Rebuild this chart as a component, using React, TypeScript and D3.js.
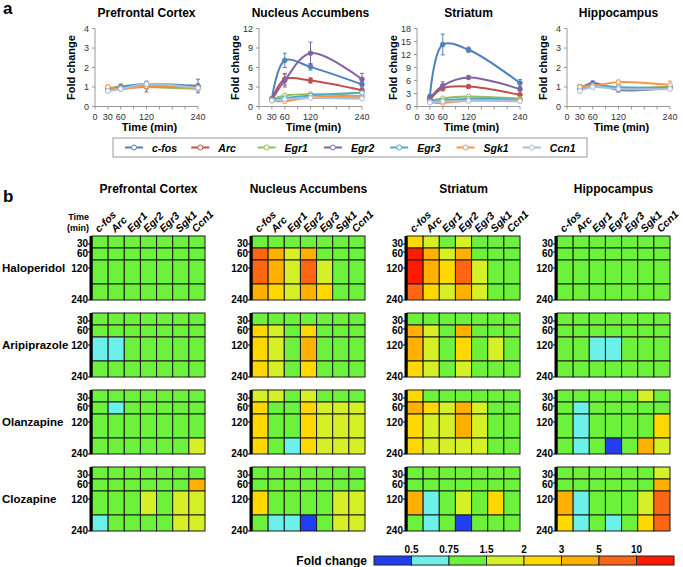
import React from 'react';
import * as d3 from 'd3';

const times = [30, 60, 120, 240];
const genes = ['c-fos', 'Arc', 'Egr1', 'Egr2', 'Egr3', 'Sgk1', 'Ccn1'];
const geneColors = ['#4f81bd', '#c0504d', '#9bbb59', '#8064a2', '#4bacc6', '#f79646', '#a7c0e0'];
const regions = ['Prefrontal Cortex', 'Nucleus Accumbens', 'Striatum', 'Hippocampus'];
const drugs = ['Haloperidol', 'Aripiprazole', 'Olanzapine', 'Clozapine'];
const yMax = [4, 12, 18, 4];
const yStep = [1, 3, 3, 1];

// panel a: haloperidol time course, one row per gene (30, 60, 120, 240 min)
const pfcMean = [
  [0.85, 1.0, 1.15, 1.05], [0.95, 0.95, 1.0, 1.0], [0.95, 1.0, 1.0, 0.9], [0.9, 1.0, 1.05, 1.0],
  [0.85, 0.95, 1.1, 0.95], [1.0, 0.9, 1.05, 0.95], [0.8, 0.9, 1.15, 0.95],
];
const pfcErr = [
  [0.1, 0.15, 0.15, 0.35], [0.1, 0.1, 0.25, 0.15], [0.1, 0.1, 0.1, 0.1], [0.1, 0.1, 0.1, 0.1],
  [0.1, 0.1, 0.1, 0.1], [0.1, 0.1, 0.1, 0.1], [0.1, 0.1, 0.1, 0.1],
];
const nacMean = [
  [1.2, 7.1, 6.1, 3.4], [1.1, 4.2, 4.0, 2.5], [1.1, 1.7, 1.9, 1.6], [1.0, 4.0, 8.2, 4.2],
  [1.0, 1.3, 1.7, 2.1], [0.9, 0.8, 1.4, 1.4], [0.9, 1.1, 1.3, 1.2],
];
const nacErr = [
  [0.3, 1.1, 0.5, 0.4], [0.2, 0.9, 0.4, 0.3], [0.2, 0.2, 0.2, 0.2], [0.2, 1.0, 1.7, 0.9],
  [0.2, 0.2, 0.2, 0.2], [0.2, 0.2, 0.2, 0.2], [0.2, 0.2, 0.2, 0.2],
];
const strMean = [
  [2.3, 14.3, 13.1, 5.4], [1.6, 4.2, 4.6, 2.7], [1.3, 1.9, 2.3, 1.8], [1.8, 4.8, 6.7, 4.0],
  [1.2, 1.4, 1.8, 1.6], [1.0, 0.8, 1.4, 1.4], [0.9, 1.2, 1.3, 1.2],
];
const strErr = [
  [0.5, 2.4, 0.6, 0.8], [0.3, 0.6, 0.3, 0.3], [0.2, 0.2, 0.2, 0.2], [0.3, 0.9, 0.3, 0.4],
  [0.2, 0.2, 0.2, 0.2], [0.2, 0.3, 0.2, 0.2], [0.2, 0.2, 0.2, 0.2],
];
const hipMean = [
  [0.95, 1.15, 0.9, 0.95], [0.9, 1.1, 0.95, 1.0], [1.0, 1.05, 0.95, 1.0], [0.9, 1.2, 0.85, 0.95],
  [1.0, 1.1, 1.0, 0.95], [1.0, 1.05, 1.25, 1.1], [0.8, 1.0, 0.9, 0.9],
];
const hipErr = [
  [0.15, 0.1, 0.1, 0.1], [0.1, 0.1, 0.1, 0.1], [0.1, 0.1, 0.1, 0.1], [0.15, 0.1, 0.1, 0.1],
  [0.1, 0.1, 0.1, 0.1], [0.1, 0.1, 0.1, 0.2], [0.1, 0.1, 0.1, 0.1],
];

// panel b: fold change per gene (rows) and time point (cols)
const ariPfc = [[1, 1, 0.65, 1], [1, 1, 0.65, 1], [1, 1, 1, 1], [1, 1, 1, 1], [1, 1, 1, 1], [1, 1, 1, 1], [1, 1, 1, 1]];
const ariNac = [[1, 2.5, 2.5, 2.5], [1, 1.8, 1.8, 1.8], [1, 1, 1, 1], [1, 2.5, 3.5, 2.5], [1, 1, 1, 1], [1, 1, 1, 1], [1, 1, 1, 1]];
const ariStr = [[1, 3.5, 3.5, 2.5], [1, 1.8, 1.8, 1.8], [1, 1, 1, 1], [1, 3.5, 2.5, 1.8], [1, 1, 1, 1], [1, 1, 1.8, 1], [1, 1, 1, 1]];
const ariHip = [[1, 1, 1, 1], [1, 1, 1, 1], [1, 1, 0.65, 1], [1, 1, 0.65, 1], [1, 1, 1, 1], [1, 1, 1, 1], [1, 1, 1, 1]];
const olaPfc = [[1, 1, 1, 1], [1, 0.65, 1, 1], [1, 1, 1, 1], [1, 1, 1, 1], [1, 1, 1, 1], [1, 1, 1, 1], [1, 1, 1, 1.8]];
const olaNac = [[1.8, 2.5, 2.5, 2.5], [1.8, 1, 1, 1], [1, 1, 1, 0.65], [1.8, 2.5, 2.5, 2.5], [1, 1.8, 1.8, 1.8], [1, 1.8, 1.8, 1.8], [1, 1.8, 1.8, 1.8]];
const olaStr = [[2.5, 4, 2.5, 2.5], [1, 2.5, 1.8, 1.8], [1, 1.8, 1.8, 1.8], [1, 3.5, 3.5, 1.8], [1, 1.8, 1.8, 1.8], [1, 1, 1, 1], [1, 1, 1, 1]];
const olaHip = [[1, 1, 1, 1], [1, 0.65, 0.65, 0.65], [1, 1, 1, 1], [1, 1, 1, 0.4], [1, 1, 1, 1], [1.8, 1, 1, 3.5], [1, 1, 2.5, 1.8]];
const cloPfc = [[1, 1, 1, 0.65], [1, 1, 1, 1], [1, 1, 1, 1], [1, 1, 1.8, 1], [1, 1, 1, 1], [1, 1, 1.8, 1.8], [1, 3.5, 1.8, 1.8]];
const cloNac = [[1, 1, 2.5, 1], [1, 1, 1, 0.65], [1, 1, 1, 0.65], [1, 1, 1, 0.4], [1, 1, 1, 1], [1, 1, 1.8, 1.8], [1, 1, 1.8, 1.8]];
const cloStr = [[1, 1, 3.5, 1], [1, 1, 0.65, 0.65], [1, 1, 1, 1], [1, 1, 1.8, 0.4], [1, 1, 1, 1], [1, 1, 2.5, 1], [1, 1, 1, 1]];
const cloHip = [[1, 1, 3.5, 2.5], [1, 1, 0.65, 0.65], [1, 1, 1, 1], [1, 1, 1, 0.65], [1, 1, 1, 1], [1, 1, 1.8, 2.5], [1.8, 3.5, 7, 7]];

const foldBreaks = [0.5, 0.75, 1.5, 2, 3, 5, 10];
const foldColors = ['#1f3ff0', '#6cf0ea', '#6cf23a', '#d6f028', '#ffd800', '#ffb000', '#ff6614', '#ff1a00'];

const font = 'Arial, "Liberation Sans", sans-serif';

const lineMeans = [pfcMean, nacMean, strMean, hipMean];
const lineErrs = [pfcErr, nacErr, strErr, hipErr];
const heat = [
  [pfcMean, nacMean, strMean, hipMean],
  [ariPfc, ariNac, ariStr, ariHip],
  [olaPfc, olaNac, olaStr, olaHip],
  [cloPfc, cloNac, cloStr, cloHip],
];

const LinePanel = ({ idx, x0 }: { idx: number; x0: number }) => {
  const x = d3.scaleLinear().domain([0, 240]).range([x0, x0 + 103]);
  const y = d3.scaleLinear().domain([0, yMax[idx]]).range([106.5, 28.5]);
  const yTicks = d3.range(0, yMax[idx] + 0.01, yStep[idx]);
  const line = d3.line<number>().x((_, i) => x(times[i])).y(d => y(d)).curve(d3.curveCatmullRom.alpha(0.5));
  const means = lineMeans[idx];
  const errs = lineErrs[idx];
  return (
    <g fontFamily={font}>
      <text x={x(120)} y={17} textAnchor="middle" fontWeight="bold" fontSize={12}>{regions[idx]}</text>
      <line x1={x0} x2={x0} y1={y(0)} y2={y(yMax[idx])} stroke="#999" />
      <line x1={x0} x2={x(240)} y1={y(0)} y2={y(0)} stroke="#999" />
      {yTicks.map(t => (
        <g key={t}>
          <line x1={x0 - 3} x2={x0} y1={y(t)} y2={y(t)} stroke="#999" />
          <text x={x0 - 6} y={y(t) + 3} textAnchor="end" fontSize={9} fill="#333">{t}</text>
        </g>
      ))}
      {d3.range(0, 241, 30).map(t => (
        <line key={t} x1={x(t)} x2={x(t)} y1={y(0)} y2={y(0) + 3} stroke="#999" />
      ))}
      {[0, 30, 60, 120, 240].map(t => (
        <text key={t} x={x(t)} y={y(0) + 13} textAnchor="middle" fontSize={9} fill="#333">{t}</text>
      ))}
      <text transform={`translate(${x0 - 20},${y(yMax[idx] / 2)}) rotate(-90)`} textAnchor="middle" fontWeight="bold" fontSize={11}>Fold change</text>
      <text x={x(120) + 3} y={131} textAnchor="middle" fontWeight="bold" fontSize={11}>Time (min)</text>
      {means.map((m, g) => (
        <g key={g}>
          <path d={line(m) || ''} fill="none" stroke={geneColors[g]} strokeWidth={2} />
          {m.map((v, i) => (
            <g key={i}>
              <line x1={x(times[i])} x2={x(times[i])} y1={y(v - errs[g][i])} y2={y(v + errs[g][i])} stroke={geneColors[g]} />
              <line x1={x(times[i]) - 2} x2={x(times[i]) + 2} y1={y(v + errs[g][i])} y2={y(v + errs[g][i])} stroke={geneColors[g]} />
              <line x1={x(times[i]) - 2} x2={x(times[i]) + 2} y1={y(v - errs[g][i])} y2={y(v - errs[g][i])} stroke={geneColors[g]} />
              <circle cx={x(times[i])} cy={y(v)} r={2.3} fill={g === 0 || g === 1 || g === 3 ? geneColors[g] : '#fff'} stroke={geneColors[g]} strokeWidth={1} />
            </g>
          ))}
        </g>
      ))}
    </g>
  );
};

const heatX = [92, 252, 407, 557];
const heatW = 113;
const heatTop = [236, 313, 390, 467];
const heatH = 64;
const timeLabelShift = [-1, 1, 0, -1];

const HeatPanel = ({ d, r, first }: { d: number; r: number; first: boolean }) => {
  const x = d3.scaleBand().domain(genes).range([heatX[r], heatX[r] + heatW]);
  const y = d3.scaleLinear().domain([0, 240]).range([heatTop[d], heatTop[d] + heatH]);
  const bounds = [0, 45, 90, 180, 240];
  const color = d3.scaleThreshold<number, string>().domain(foldBreaks).range(foldColors);
  const vals = heat[d][r];
  return (
    <g fontFamily={font}>
      {vals.map((row, g) =>
        row.map((v, i) => (
          <rect key={`${g}-${i}`} x={x(genes[g])} y={y(bounds[i])} width={x.bandwidth()} height={y(bounds[i + 1]) - y(bounds[i])}
            fill={color(v)} stroke="#1a1a1a" strokeWidth={1} />
        ))
      )}
      <line x1={heatX[r] - 1} x2={heatX[r] - 1} y1={y(0)} y2={y(240)} stroke="#000" strokeWidth={3} />
      {times.map((t, i) => (
        <g key={t}>
          <line x1={heatX[r] - 4} x2={heatX[r]} y1={y(t)} y2={y(t)} stroke="#000" />
          <text x={heatX[r] - 4} y={y(t) + 3.5 + timeLabelShift[i]} textAnchor="end" fontWeight="bold" fontSize={10}>{t}</text>
        </g>
      ))}
      {first && genes.map(g => (
        <text key={g} transform={`translate(${(x(g) || 0) + x.bandwidth() / 2 - 1},${heatTop[0] - 3}) rotate(-45)`}
          fontStyle="italic" fontWeight="bold" fontSize={10.5}>{g}</text>
      ))}
      {r === 0 && (
        <text x={2} y={y(120) + 4} fontWeight="bold" fontSize={11.5}>{drugs[d]}</text>
      )}
    </g>
  );
};

export default function App() {
  const barX = d3.scaleBand<number>().domain(d3.range(foldColors.length)).range([374, 674]);
  return (
    <svg width={683} height={567} style={{ position: 'absolute', left: 0, top: 0, background: '#fff' }} fontFamily={font}>
      <text x={3} y={14} fontWeight="bold" fontSize={17}>a</text>
      {[95, 259, 417, 567].map((x0, i) => <LinePanel key={i} idx={i} x0={x0} />)}
      <rect x={113} y={138} width={474} height={19} fill="#fff" stroke="#999" />
      {genes.map((g, i) => {
        const lx = 125 + i * 66.3;
        return (
          <g key={g}>
            <line x1={lx} x2={lx + 18} y1={147.5} y2={147.5} stroke={geneColors[i]} strokeWidth={2} />
            <circle cx={lx + 9} cy={147.5} r={2.5} fill="#fff" stroke={geneColors[i]} />
            <text x={lx + 27} y={151.5} fontStyle="italic" fontWeight="bold" fontSize={10.5}>{g}</text>
          </g>
        );
      })}
      <text x={3} y={202} fontWeight="bold" fontSize={17}>b</text>
      {regions.map((name, r) => (
        <text key={name} x={heatX[r] + heatW / 2} y={193} textAnchor="middle" fontWeight="bold" fontSize={12}>{name}</text>
      ))}
      <text x={89} y={220} textAnchor="end" fontWeight="bold" fontSize={9}>Time</text>
      <text x={89} y={231} textAnchor="end" fontWeight="bold" fontSize={9}>(min)</text>
      {drugs.map((_, d) => regions.map((__, r) => <HeatPanel key={`${d}-${r}`} d={d} r={r} first={d === 0} />))}
      <text x={367} y={565} textAnchor="end" fontWeight="bold" fontSize={12}>Fold change</text>
      {foldColors.map((c, i) => (
        <rect key={c} x={barX(i)} y={556} width={barX.bandwidth()} height={9} fill={c} stroke="#222" />
      ))}
      {foldBreaks.map((b, i) => (
        <text key={b} x={(barX(i + 1) || 0)} y={553} textAnchor="middle" fontWeight="bold" fontSize={10}>{b}</text>
      ))}
    </svg>
  );
}
